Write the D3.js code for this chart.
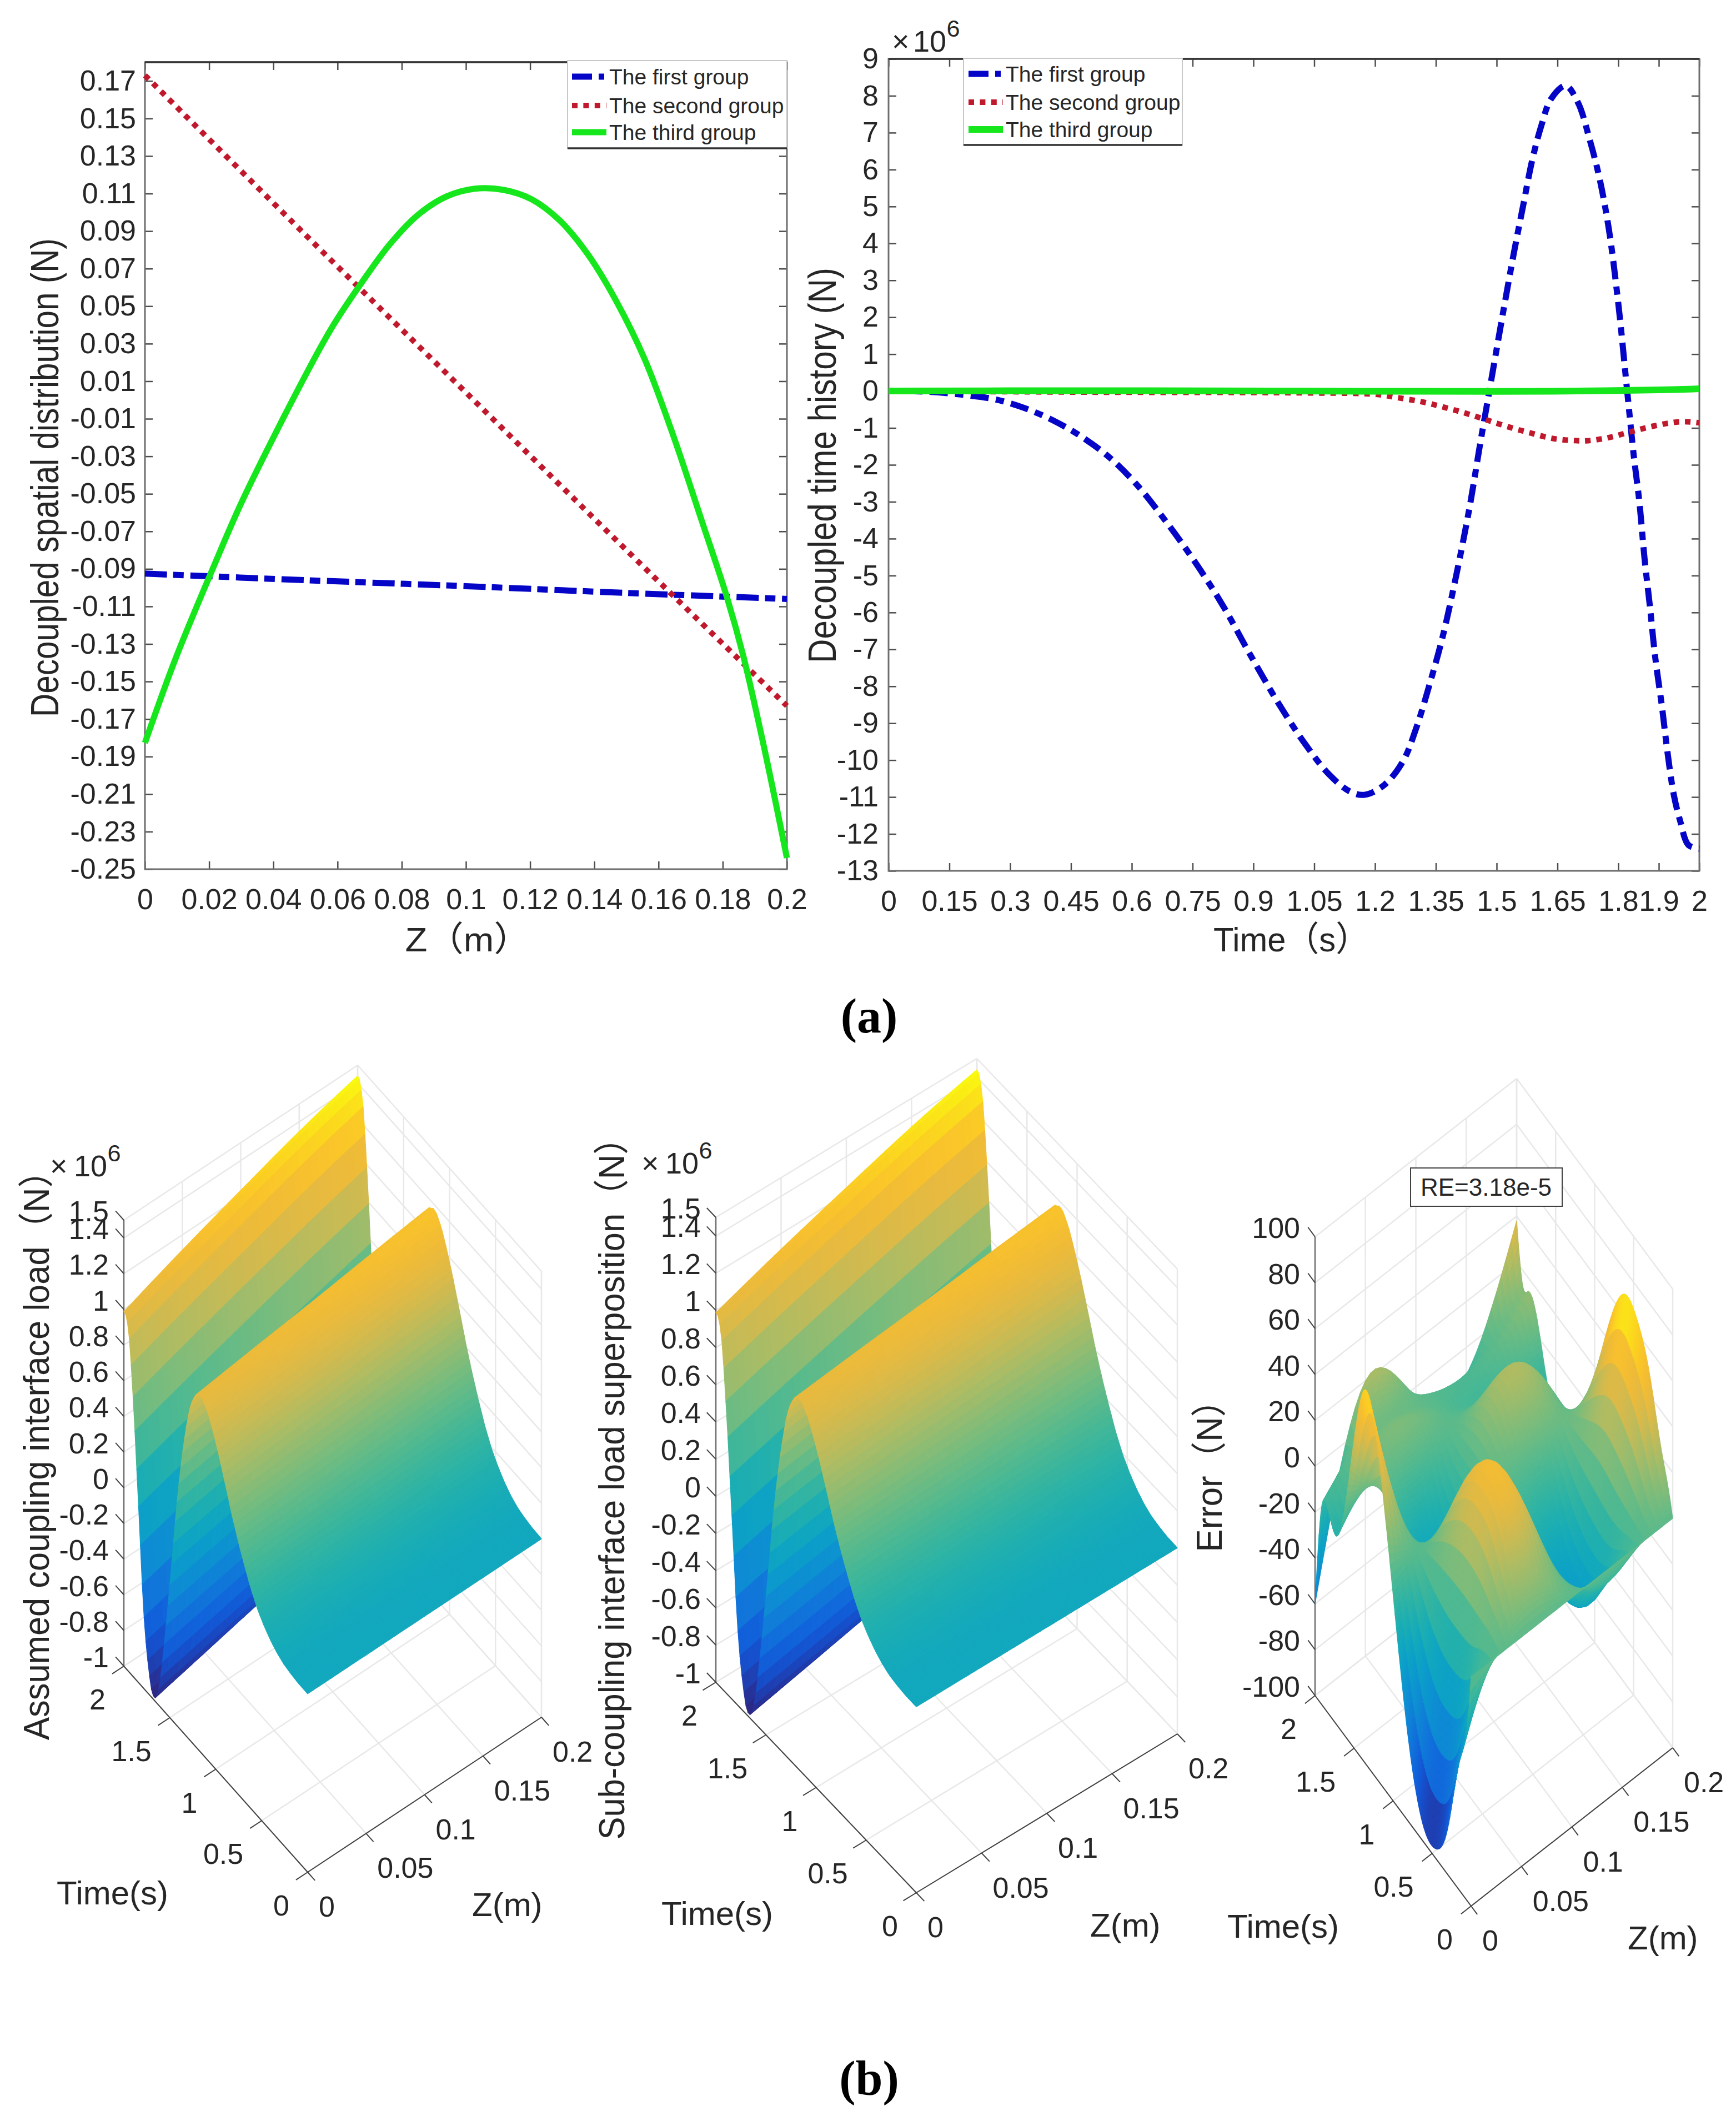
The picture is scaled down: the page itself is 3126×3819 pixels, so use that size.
<!DOCTYPE html>
<html>
<head>
<meta charset="utf-8">
<script src="https://cdn.jsdelivr.net/npm/d3@7"></script>
<style>
  html, body { margin: 0; padding: 0; background: #fff; }
  text { font-family: "Liberation Sans", "Noto Sans CJK SC", sans-serif; fill: #262626; }
</style>
</head>
<body>
<svg id="fig" width="3126" height="3819" viewBox="0 0 3126 3819"></svg>
<script>
// values

// (a) left: spatial distribution
const zFirst = [0, 0.05, 0.1, 0.15, 0.2];
const firstSpatial = [-0.0925, -0.096, -0.0992, -0.1028, -0.106];
const zSecond = [0, 0.05, 0.1, 0.15, 0.2];
const secondSpatial = [0.173, 0.088, 0.004, -0.08, -0.163];
const zThird = [0, 0.0095, 0.0211, 0.0306, 0.0512, 0.0587, 0.0675, 0.0763, 0.0851, 0.094, 0.1028, 0.1116, 0.1204, 0.1292, 0.138, 0.1469, 0.1557, 0.1645, 0.1733, 0.1813, 0.1865, 0.193, 0.2];
const thirdSpatial = [-0.1827, -0.138, -0.09, -0.0527, 0.017, 0.0399, 0.0625, 0.083, 0.0987, 0.1085, 0.1126, 0.112, 0.107, 0.0957, 0.0776, 0.0525, 0.0217, -0.0185, -0.0635, -0.105, -0.137, -0.186, -0.244];

// (a) right: time history, in units of 1e6 N
const tFirst = [0, 0.1, 0.195, 0.265, 0.335, 0.405, 0.475, 0.545, 0.615, 0.684, 0.754, 0.824, 0.894, 0.964, 1.03, 1.086, 1.138, 1.174, 1.223, 1.269, 1.302, 1.335, 1.367, 1.4, 1.434, 1.459, 1.482, 1.513, 1.543, 1.566, 1.588, 1.611, 1.634, 1.67, 1.7, 1.73, 1.754, 1.777, 1.8, 1.822, 1.838, 1.852, 1.865, 1.878, 1.891, 1.908, 1.921, 1.937, 1.953, 1.973, 2];
const firstTime = [0, -0.02, -0.115, -0.23, -0.46, -0.79, -1.23, -1.8, -2.57, -3.53, -4.6, -5.8, -7.18, -8.5, -9.6, -10.38, -10.85, -10.94, -10.67, -10.03, -9.12, -7.93, -6.65, -5.01, -3.1, -1.45, 0, 1.95, 3.77, 5.06, 6.27, 7.22, 7.91, 8.27, 7.83, 6.79, 5.75, 4.37, 2.38, 0, -1.73, -3, -4.56, -5.83, -7.2, -8.57, -9.75, -10.94, -11.66, -12.3, -12.4];
const tSecond = [0, 0.5, 1.027, 1.203, 1.256, 1.315, 1.367, 1.42, 1.472, 1.524, 1.583, 1.636, 1.688, 1.72, 1.773, 1.825, 1.878, 1.937, 1.963, 2];
const secondTime = [0, -0.03, -0.05, -0.09, -0.18, -0.29, -0.43, -0.59, -0.77, -0.955, -1.135, -1.28, -1.34, -1.35, -1.27, -1.12, -0.97, -0.85, -0.83, -0.86];
const tThird = [0, 0.5, 1, 1.5, 1.7, 1.9, 2];
const thirdTime = [0, 0.01, 0, -0.01, 0, 0.03, 0.06];

// tick labels
const leftYTicks = ['-0.25','-0.23','-0.21','-0.19','-0.17','-0.15','-0.13','-0.11','-0.09','-0.07','-0.05','-0.03','-0.01','0.01','0.03','0.05','0.07','0.09','0.11','0.13','0.15','0.17'];
const leftXTicks = ['0','0.02','0.04','0.06','0.08','0.1','0.12','0.14','0.16','0.18','0.2'];
const rightYTicks = ['-13','-12','-11','-10','-9','-8','-7','-6','-5','-4','-3','-2','-1','0','1','2','3','4','5','6','7','8','9'];
const rightXTicks = ['0','0.15','0.3','0.45','0.6','0.75','0.9','1.05','1.2','1.35','1.5','1.65','1.8','1.9','2'];
const groupNames = ['The first group', 'The second group', 'The third group'];
const timeTicks = ['0', '0.5', '1', '1.5', '2'];
const depthTicks = ['0', '0.05', '0.1', '0.15', '0.2'];
const loadTicks = ['-1','-0.8','-0.6','-0.4','-0.2','0','0.2','0.4','0.6','0.8','1','1.2','1.4','1.5'];
const errorTicks = ['-100','-80','-60','-40','-20','0','20','40','60','80','100'];

// (b) right: error surface estimated from its crests and edges, rows are z
const errT = [0, 0.03, 0.15, 0.3, 0.46, 0.6, 0.8, 1, 1.2, 1.37, 1.58, 1.73, 1.85, 1.92, 2];
const errZ = [0, 0.05, 0.1, 0.15, 0.2];
const errRow0 = [0, -16, -44, -80, -96, -94, -65, -10, 45, 62, 10, -18, -10, -15, -60];
const errRow1 = [0, 6, 19, 34, 41, 40, 27, 3, -20, -26, -3, 8, 5, 7, 20];
const errRow2 = [0, 1, 2, 4, 5, 5, 3, 0, -3, -4, -1, 1, 0, 0, -4];
const errRow3 = [0, -5, -16, -29, -35, -34, -23, -3, 16, 22, 3, -7, -4, -5, -12];
const errRow4 = [0, 6, 24, 50, 66, 70, 50, 15, -13, -18, -18, 6, 14, 13, 38];

// parula as it looks in the picture, evenly spaced stops
const parulaColors = ['#2f2680','#0f55e0','#1276da','#0c93d2','#0ba8c2','#2eb5a2','#68bc84','#a8bd68','#e6b843','#ffbe28','#f9fb0e'];
const parula = d3.interpolateRgbBasis(parulaColors);

const blue = '#0505c8', red = '#c0182c', green = '#16e61c';

const svg = d3.select('#fig');

// natural cubic spline through read values, only used to refine the drawn mesh
function smooth(xs, ys) {
    const n = xs.length, h = d3.range(n - 1).map(i => xs[i + 1] - xs[i]);
    const c = new Array(n).fill(0), d = new Array(n).fill(0), m = new Array(n).fill(0);
    for (let i = 1; i < n - 1; i++) {
        const p = 2 * (xs[i + 1] - xs[i - 1]) - h[i - 1] * c[i - 1];
        c[i] = h[i] / p;
        d[i] = (6 * ((ys[i + 1] - ys[i]) / h[i] - (ys[i] - ys[i - 1]) / h[i - 1]) - h[i - 1] * d[i - 1]) / p;
    }
    for (let i = n - 2; i > 0; i--) m[i] = d[i] - c[i] * m[i + 1];
    return x => {
        const i = Math.min(n - 2, Math.max(0, d3.bisectRight(xs, x) - 1));
        const a = (xs[i + 1] - x) / h[i], b = (x - xs[i]) / h[i];
        return a * ys[i] + b * ys[i + 1] + ((a*a*a - a) * m[i] + (b*b*b - b) * m[i + 1]) * h[i] * h[i] / 6;
    };
}

function styleAxis(g, tickColor) {
    g.select('.domain').attr('stroke', 'none');
    g.selectAll('.tick line').attr('stroke', tickColor).attr('stroke-width', 2.5);
}

function drawLinePlot(o) {
    const x = d3.scaleLinear().domain(o.xDomain).range([o.left, o.right]);
    const y = d3.scaleLinear().domain(o.yDomain).range([o.bottom, o.top]);
    const g = svg.append('g');

    const labelAxis = (gen, pos) => g.append('g').attr('transform', pos).call(gen)
        .call(s => styleAxis(s, '#4d4d4d'));

    const xv = o.xTicks.map(Number), yv = o.yTicks.map(Number);
    const bottom = labelAxis(d3.axisBottom(x).tickValues(xv).tickFormat((d, i) => o.xTicks[i])
        .tickSizeInner(-14).tickSizeOuter(0).tickPadding(35), `translate(0,${o.bottom})`);
    const left = labelAxis(d3.axisLeft(y).tickValues(yv).tickFormat((d, i) => o.yTicks[i])
        .tickSizeInner(-14).tickSizeOuter(0).tickPadding(o.yPad), `translate(${o.left},0)`);
    labelAxis(d3.axisTop(x).tickValues(xv).tickFormat('').tickSizeInner(-14).tickSizeOuter(0), `translate(0,${o.top})`);
    labelAxis(d3.axisRight(y).tickValues(yv).tickFormat('').tickSizeInner(-14).tickSizeOuter(0), `translate(${o.right},0)`);
    [bottom, left].forEach(s => s.selectAll('text').attr('font-size', 52).attr('fill', '#262626')
        .style('font-family', '"Liberation Sans", sans-serif'));

    g.append('rect').attr('x', o.left).attr('y', o.top)
        .attr('width', o.right - o.left).attr('height', o.bottom - o.top)
        .attr('fill', 'none').attr('stroke', '#6e6e6e').attr('stroke-width', 3);
    g.append('line').attr('x1', o.left).attr('x2', o.right).attr('y1', o.top).attr('y2', o.top)
        .attr('stroke', '#333').attr('stroke-width', 3.5);

    const line = d3.line().x(d => x(d[0])).y(d => y(d[1])).curve(d3.curveCatmullRom.alpha(0.5));
    o.series.forEach(s => {
        g.append('path').datum(d3.zip(s.xs, s.ys)).attr('d', line)
            .attr('fill', 'none').attr('stroke', s.color).attr('stroke-width', s.width)
            .attr('stroke-dasharray', s.dash);
    });

    // legend
    const lg = o.legend;
    g.append('rect').attr('x', lg.x).attr('y', lg.y).attr('width', lg.w).attr('height', lg.h)
        .attr('fill', '#fff').attr('stroke', '#c8c8c8').attr('stroke-width', 2);
    g.append('line').attr('x1', lg.x).attr('x2', lg.x + lg.w).attr('y1', lg.y + lg.h).attr('y2', lg.y + lg.h)
        .attr('stroke', '#333').attr('stroke-width', 3.5);
    o.series.forEach((s, i) => {
        const ry = lg.rows[i];
        g.append('line').attr('x1', lg.sx).attr('x2', lg.sx + 62).attr('y1', ry).attr('y2', ry)
            .attr('stroke', s.color).attr('stroke-width', s.width).attr('stroke-dasharray', s.legendDash || s.dash);
        g.append('text').attr('x', lg.sx + 67).attr('y', ry + 14).attr('font-size', 39).text(groupNames[i]);
    });

    g.append('text').attr('x', o.xLabel.x).attr('y', o.xLabel.y).attr('text-anchor', 'middle')
        .attr('font-size', 62).attr('textLength', o.xLabel.len).attr('lengthAdjust', 'spacingAndGlyphs').text(o.xLabel.text);
    vLabel(g, o.yLabel);
}

// rotated axis title, squeezed along its length as in the picture
function vLabel(g, l) {
    g.append('text').attr('transform', `translate(${l.x},${l.y}) rotate(-90)`).attr('text-anchor', 'middle')
        .attr('font-size', l.size).attr('textLength', l.len).attr('lengthAdjust', 'spacingAndGlyphs').text(l.text);
}

function exponent(g, x, y, size, gap) {
    g.append('text').attr('x', x).attr('y', y).attr('font-size', size).text('×');
    g.append('text').attr('x', x + gap).attr('y', y).attr('font-size', size).text('10');
    g.append('text').attr('x', x + gap + size * 1.12).attr('y', y - size * 0.5).attr('font-size', size * 0.8).text('6');
}

// box panels: t runs from the front corner to the left corner, z to the right corner
function drawSurfacePanel(o, valueAt, tSteps, zSteps) {
    const g = svg.append('g');
    const tx = d3.scaleLinear().domain([0, 2]).range([0, o.leftC[0] - o.front[0]]);
    const ty = d3.scaleLinear().domain([0, 2]).range([0, o.leftC[1] - o.front[1]]);
    const zx = d3.scaleLinear().domain([0, 0.2]).range([0, o.rightC[0] - o.front[0]]);
    const zy = d3.scaleLinear().domain([0, 0.2]).range([0, o.rightC[1] - o.front[1]]);
    const vy = d3.scaleLinear().domain(o.vDomain).range([0, -o.vHeight]);
    const px = (t, z) => o.front[0] + tx(t) + zx(z);
    const py = (t, z, v) => o.front[1] + ty(t) + zy(z) + vy(v);

    const tv = timeTicks.map(Number), zv = depthTicks.map(Number), vv = o.vTicks.map(Number);
    const vMin = o.vDomain[0], vMax = o.vDomain[1];
    const seg = (a, b, c, d, color, w) => g.append('line').attr('x1', a).attr('y1', b).attr('x2', c).attr('y2', d)
        .attr('stroke', color).attr('stroke-width', w);

    // floor and the two back walls
    const gridC = '#e8e8e8';
    tv.forEach(t => {
        seg(px(t, 0), py(t, 0, vMin), px(t, 0.2), py(t, 0.2, vMin), gridC, 2.5);
        seg(px(t, 0.2), py(t, 0.2, vMin), px(t, 0.2), py(t, 0.2, vMax), gridC, 2.5);
    });
    zv.forEach(z => {
        seg(px(0, z), py(0, z, vMin), px(2, z), py(2, z, vMin), gridC, 2.5);
        seg(px(2, z), py(2, z, vMin), px(2, z), py(2, z, vMax), gridC, 2.5);
    });
    vv.forEach(v => {
        seg(px(2, 0), py(2, 0, v), px(2, 0.2), py(2, 0.2, v), gridC, 2.5);
        seg(px(2, 0.2), py(2, 0.2, v), px(0, 0.2), py(0, 0.2, v), gridC, 2.5);
    });

    // axes with outward ticks
    const axisC = '#404040';
    seg(px(0, 0), py(0, 0, vMin), px(2, 0), py(2, 0, vMin), axisC, 2);
    seg(px(0, 0), py(0, 0, vMin), px(0, 0.2), py(0, 0.2, vMin), axisC, 2);
    seg(px(2, 0), py(2, 0, vMin), px(2, 0), py(2, 0, vMax), '#707070', 2.5);
    tv.forEach((t, i) => {
        seg(px(t, 0), py(t, 0, vMin), px(t, -0.01), py(t, -0.01, vMin), axisC, 2);
        g.append('text').attr('x', px(t, 0) - 33).attr('y', py(t, 0, vMin) + 78)
            .attr('text-anchor', 'end').attr('font-size', 52).text(timeTicks[i]);
    });
    zv.forEach((z, i) => {
        seg(px(0, z), py(0, z, vMin), px(-0.08, z), py(-0.08, z, vMin), axisC, 2);
        g.append('text').attr('x', px(0, z) + 20).attr('y', py(0, z, vMin) + 80)
            .attr('font-size', 52).text(depthTicks[i]);
    });
    vv.forEach((v, i) => {
        seg(px(2, 0), py(2, 0, v), px(2.09, 0), py(2.09, 0, v), axisC, 2);
        g.append('text').attr('x', px(2, 0) - 27).attr('y', py(2, 0, v) + 2)
            .attr('text-anchor', 'end').attr('font-size', 52).text(o.vTicks[i]);
    });

    // sample the surface
    const ts = d3.range(tSteps + 1).map(i => 2 * i / tSteps);
    const zs = d3.range(zSteps + 1).map(j => 0.2 * j / zSteps);
    const values = ts.map(t => zs.map(z => valueAt(t, z)));
    const color = d3.scaleSequential(parula).domain(d3.extent(values.flat()));

    // back cells first, so the nearer sheets cover them
    const cells = [];
    for (let i = tSteps - 1; i >= 0; i--) {
        for (let j = zSteps - 1; j >= 0; j--) cells.push([i, j]);
    }
    g.append('g').selectAll('path').data(cells).join('path')
        .attr('d', ([i, j]) => {
            const P = (a, b) => `${px(ts[a], zs[b]).toFixed(1)},${py(ts[a], zs[b], values[a][b]).toFixed(1)}`;
            return `M${P(i, j)}L${P(i + 1, j)}L${P(i + 1, j + 1)}L${P(i, j + 1)}Z`;
        })
        .each(function ([i, j]) {
            const c = color((values[i][j] + values[i + 1][j] + values[i][j + 1] + values[i + 1][j + 1]) / 4);
            d3.select(this).attr('fill', c).attr('stroke', c).attr('stroke-width', 1.2);
        });

    g.append('text').attr('x', o.tLabel[0]).attr('y', o.tLabel[1]).attr('font-size', 60).text('Time(s)');
    g.append('text').attr('x', o.zLabel[0]).attr('y', o.zLabel[1]).attr('font-size', 60).text('Z(m)');
    vLabel(g, o.vLabel);
    return g;
}

// left plot
drawLinePlot({
    left: 261, right: 1417, top: 112, bottom: 1565,
    xDomain: [0, 0.2], yDomain: [-0.25, 0.18], xTicks: leftXTicks, yTicks: leftYTicks, yPad: 16,
    series: [
        { xs: zFirst, ys: firstSpatial, color: blue, width: 11, dash: '40 11 19 12', legendDash: '36 12 10 12' },
        { xs: zSecond, ys: secondSpatial, color: red, width: 10, dash: '10 10.4' },
        { xs: zThird, ys: thirdSpatial, color: green, width: 11, dash: null }
    ],
    legend: { x: 1022, y: 109, w: 395, h: 158, sx: 1030, rows: [138, 190, 238] },
    xLabel: { x: 842, y: 1713, len: 225, text: 'Z（m）' },
    yLabel: { x: 105, y: 860, len: 862, size: 70, text: 'Decoupled spatial distribution (N)' }
});

// right plot
drawLinePlot({
    left: 1600, right: 3060, top: 106, bottom: 1568,
    xDomain: [0, 2], yDomain: [-13, 9], xTicks: rightXTicks, yTicks: rightYTicks, yPad: 18,
    series: [
        { xs: tFirst, ys: firstTime, color: blue, width: 11, dash: '33 13 15 13', legendDash: '36 12 10 12' },
        { xs: tSecond, ys: secondTime, color: red, width: 10, dash: '10 10.4' },
        { xs: tThird, ys: thirdTime, color: green, width: 12, dash: null }
    ],
    legend: { x: 1735, y: 105, w: 394, h: 156, sx: 1744, rows: [133, 184, 233] },
    xLabel: { x: 2325, y: 1713, len: 280, text: 'Time（s）' },
    yLabel: { x: 1505, y: 838, len: 712, size: 70, text: 'Decoupled time history (N)' }
});
exponent(svg, 1606, 93, 54, 38);

// the load surfaces are the three groups of (a) added back together
const spatial = [smooth(zFirst, firstSpatial), smooth(zSecond, secondSpatial), smooth(zThird, thirdSpatial)];
const temporal = [
    d3.scaleLinear().domain(tFirst).range(firstTime),
    d3.scaleLinear().domain(tSecond).range(secondTime),
    d3.scaleLinear().domain(tThird).range(thirdTime)
];
const load = (t, z) => d3.sum(spatial, (s, k) => s(z) * temporal[k](t));

const loadPanel1 = drawSurfacePanel({
    front: [554, 3371], leftC: [223, 3000], rightC: [975, 3092],
    vDomain: [-1, 1.5], vHeight: 803, vTicks: loadTicks,
    tLabel: [102, 3429], zLabel: [850, 3450],
    vLabel: { x: 88, y: 2605, len: 1056, size: 64, text: 'Assumed coupling interface load（N）' }
}, load, 100, 40);
exponent(loadPanel1, 90, 2118, 54, 43);

const loadPanel2 = drawSurfacePanel({
    front: [1650, 3408], leftC: [1289, 3029], rightC: [2120, 3122],
    vDomain: [-1, 1.5], vHeight: 837, vTicks: loadTicks,
    tLabel: [1191, 3466], zLabel: [1963, 3487],
    vLabel: { x: 1124, y: 2665, len: 1295, size: 64, text: 'Sub-coupling interface load superposition（N）' }
}, load, 100, 40);
exponent(loadPanel2, 1155, 2113, 54, 43);

const errAtZ = [errRow0, errRow1, errRow2, errRow3, errRow4].map(r => smooth(errT, r));
const errValue = (t, z) => smooth(errZ, errAtZ.map(f => f(t)))(z);

const errPanel = drawSurfacePanel({
    front: [2649, 3432], leftC: [2368, 3053], rightC: [3012, 3147],
    vDomain: [-100, 100], vHeight: 826, vTicks: errorTicks,
    tLabel: [2210, 3489], zLabel: [2931, 3510],
    vLabel: { x: 2200, y: 2642, len: 305, size: 64, text: 'Error（N）' }
}, errValue, 160, 40);
errPanel.append('rect').attr('x', 2540).attr('y', 2103).attr('width', 273).attr('height', 69)
    .attr('fill', '#fff').attr('stroke', '#404040').attr('stroke-width', 2);
errPanel.append('text').attr('x', 2676).attr('y', 2153).attr('text-anchor', 'middle')
    .attr('font-size', 44).text('RE=3.18e-5');

// sub-figure captions
[['(a)', 1859], ['(b)', 3772]].forEach(([s, y]) => {
    svg.append('text').attr('x', 1565).attr('y', y).attr('text-anchor', 'middle')
        .attr('font-size', 88).attr('font-weight', 'bold')
        .style('font-family', '"Liberation Serif", serif').style('fill', '#000').text(s);
});
</script>
</body>
</html>
